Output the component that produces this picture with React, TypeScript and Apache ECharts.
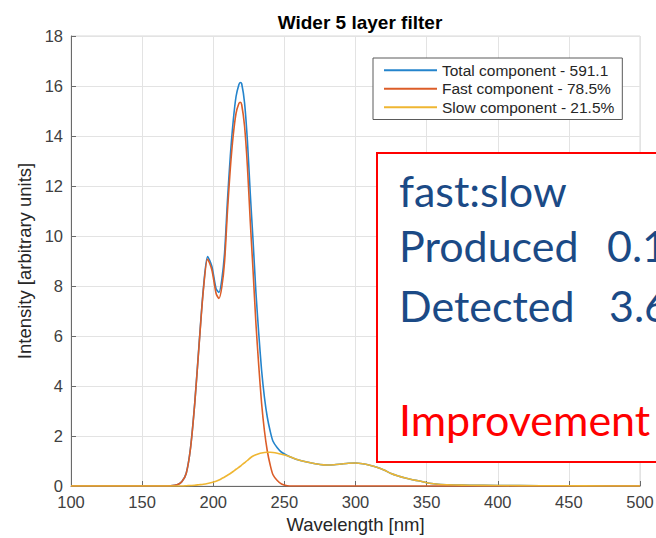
import React, { useEffect, useRef } from "react";
import * as echarts from "echarts";

const wavelength = [100, 150, 165, 170, 175, 178, 181, 184, 187, 190, 193, 196, 199, 202, 204, 206, 208, 210, 212, 214, 216, 218, 219, 220, 222, 224, 226, 228, 230, 232, 234, 236, 238, 240, 242, 245, 248, 252, 256, 260, 265, 270, 275, 280, 285, 290, 295, 300, 305, 310, 315, 320, 325, 330, 335, 340, 345, 350, 355, 360, 370, 380, 400, 430, 460, 500];

const fastValues = [0, 0, 0, 0.01, 0.06, 0.18, 0.5, 1.5, 3.3, 5.6, 7.8, 9.08, 8.65, 7.7, 7.5, 7.95, 9.0, 11.0, 12.7, 14.0, 14.9, 15.3, 15.35, 15.25, 14.4, 12.8, 10.6, 8.6, 6.5, 4.8, 3.3, 2.2, 1.4, 0.85, 0.45, 0.22, 0.08, 0.01, 0, 0, 0, 0, 0, 0, 0, 0, 0, 0, 0, 0, 0, 0, 0, 0, 0, 0, 0, 0, 0, 0, 0, 0, 0, 0, 0, 0];

const slowValues = [0, 0, 0, 0, 0, 0, 0.01, 0.02, 0.03, 0.05, 0.07, 0.1, 0.14, 0.19, 0.24, 0.3, 0.36, 0.43, 0.5, 0.58, 0.67, 0.75, 0.79, 0.84, 0.93, 1.02, 1.12, 1.2, 1.25, 1.29, 1.32, 1.34, 1.35, 1.35, 1.34, 1.31, 1.27, 1.21, 1.12, 1.04, 0.97, 0.91, 0.86, 0.84, 0.85, 0.88, 0.91, 0.92, 0.89, 0.83, 0.75, 0.64, 0.5, 0.4, 0.32, 0.25, 0.2, 0.13, 0.09, 0.06, 0.04, 0.03, 0.02, 0.01, 0.005, 0];

const totalValues = [0, 0, 0, 0.01, 0.06, 0.18, 0.51, 1.52, 3.33, 5.65, 7.87, 9.18, 8.79, 7.89, 7.74, 8.25, 9.36, 11.43, 13.2, 14.58, 15.57, 16.05, 16.14, 16.09, 15.33, 13.82, 11.72, 9.8, 7.75, 6.09, 4.62, 3.54, 2.75, 2.2, 1.79, 1.53, 1.35, 1.22, 1.12, 1.04, 0.97, 0.91, 0.86, 0.84, 0.85, 0.88, 0.91, 0.92, 0.89, 0.83, 0.75, 0.64, 0.5, 0.4, 0.32, 0.25, 0.2, 0.13, 0.09, 0.06, 0.04, 0.03, 0.02, 0.01, 0.005, 0];

const seriesNames = ["Total component - 591.1", "Fast component - 78.5%", "Slow component - 21.5%"];
const seriesColors = ["#2484cc", "#dc5d28", "#efb632"];

const titleText = "Wider 5 layer filter";
const xName = "Wavelength [nm]";
const yName = "Intensity [arbitrary units]";

const noteLines = ["fast:slow", "Produced", "Detected"];
const noteValues = ["0.1", "3.6"];
const noteFooter = "Improvement";

const FONT = "'Liberation Sans', Arial, sans-serif";
const NOTE_FONT = "Lato, 'Open Sans', sans-serif";

export default function App() {
  const ref = useRef<HTMLDivElement>(null);
  useEffect(() => {
    if (!ref.current) return;
    const chart = echarts.init(ref.current, null, { renderer: "svg" });
    const series = [totalValues, fastValues, slowValues].map((vals, i) => ({
      name: seriesNames[i],
      type: "line",
      data: wavelength.map((w, j) => [w, vals[j]]),
      showSymbol: false,
      symbol: "none",
      smooth: 0.25,
      lineStyle: { color: seriesColors[i], width: 1.6 },
      itemStyle: { color: seriesColors[i] },
      z: 2 + i,
    }));
    const noteColor = "#1b4a86";
    const noteFont = `43px ${NOTE_FONT}`;
    const noteText = (x: number, y: number, text: string, fill: string) => ({
      type: "text",
      x,
      y,
      z: 101,
      style: { text, fill, font: noteFont, verticalAlign: "middle" },
    });
    chart.setOption({
      animation: false,
      backgroundColor: "#ffffff",
      title: {
        text: titleText,
        left: 355,
        textAlign: "center",
        top: 8,
        textStyle: { fontFamily: FONT, fontSize: 19, fontWeight: "bold", color: "#000" },
      },
      grid: {
        left: 71,
        right: 16,
        top: 36,
        bottom: 52,
        show: true,
        borderColor: "#d9d9d9",
        borderWidth: 1,
        backgroundColor: "transparent",
        outerBoundsMode: "none",
      },
      legend: {
        orient: "vertical",
        left: 373,
        top: 58,
        padding: [3, 8, 3, 11],
        itemGap: 0,
        itemWidth: 53,
        itemHeight: 2,
        icon: "rect",
        backgroundColor: "#ffffff",
        borderColor: "#5a5a5a",
        borderWidth: 1,
        borderRadius: 0,
        textStyle: { fontFamily: FONT, fontSize: 15.5, color: "#262626", lineHeight: 18.5 },
        data: seriesNames,
      },
      xAxis: {
        type: "value",
        min: 100,
        max: 500,
        interval: 50,
        name: xName,
        nameLocation: "middle",
        nameGap: 24,
        nameTextStyle: { fontFamily: FONT, fontSize: 18.5, color: "#262626" },
        axisLine: { lineStyle: { color: "#6a6a6a", width: 1 } },
        axisTick: { show: true, inside: true, length: 5, lineStyle: { color: "#6a6a6a" } },
        axisLabel: { fontFamily: FONT, fontSize: 16.5, color: "#404040", margin: 7 },
        splitLine: { show: true, lineStyle: { color: "#e3e3e3", width: 1 } },
      },
      yAxis: {
        type: "value",
        min: 0,
        max: 18,
        interval: 2,
        name: yName,
        nameLocation: "middle",
        nameGap: 34,
        nameRotate: 90,
        nameTextStyle: { fontFamily: FONT, fontSize: 18.5, color: "#262626" },
        axisLine: { show: true, lineStyle: { color: "#6a6a6a", width: 1 } },
        axisTick: { show: true, inside: true, length: 5, lineStyle: { color: "#6a6a6a" } },
        axisLabel: { fontFamily: FONT, fontSize: 16.5, color: "#404040", margin: 8 },
        splitLine: { show: true, lineStyle: { color: "#e3e3e3", width: 1 } },
      },
      series,
      graphic: [
        {
          type: "rect",
          z: 100,
          shape: { x: 377, y: 153, width: 320, height: 309 },
          style: { fill: "#ffffff", stroke: "#ff0000", lineWidth: 2 },
        },
        noteText(399, 190, noteLines[0], noteColor),
        noteText(399, 245, noteLines[1], noteColor),
        noteText(607, 245, noteValues[0], noteColor),
        noteText(399, 305, noteLines[2], noteColor),
        noteText(609, 305, noteValues[1], noteColor),
        noteText(399, 419, noteFooter, "#ff0000"),
      ],
    });
    return () => chart.dispose();
  }, []);
  return (
    <div style={{ position: "fixed", left: 0, top: 0, width: 656, height: 538, overflow: "hidden", background: "#fff" }}>
      <div ref={ref} style={{ width: 656, height: 538 }} />
    </div>
  );
}
